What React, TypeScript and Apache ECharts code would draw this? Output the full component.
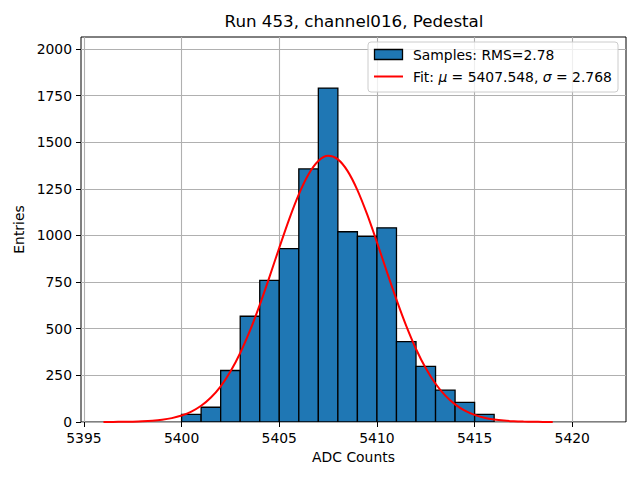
import React, { useEffect, useRef } from "react";
import * as echarts from "echarts";

const titleText = "Run 453, channel016, Pedestal";
const xAxisName = "ADC Counts";
const yAxisName = "Entries";

const binStarts = [5400, 5401, 5402, 5403, 5404, 5405, 5406, 5407, 5408, 5409, 5410, 5411, 5412, 5413, 5414, 5415];
const binWidth = 1;
const counts = [41, 79, 276, 567, 759, 929, 1357, 1790, 1020, 995, 1041, 431, 298, 171, 105, 41];

const fitX = [
  5396, 5396.5, 5397, 5397.5, 5398, 5398.5, 5399, 5399.5, 5400, 5400.5, 5401, 5401.5,
  5402, 5402.5, 5403, 5403.5, 5404, 5404.5, 5405, 5405.5, 5406, 5406.5, 5407, 5407.5,
  5408, 5408.5, 5409, 5409.5, 5410, 5410.5, 5411, 5411.5, 5412, 5412.5, 5413, 5413.5,
  5414, 5414.5, 5415, 5415.5, 5416, 5416.5, 5417, 5417.5, 5418, 5418.5, 5419,
];
const fitY = [
  0.24, 0.5, 1.0, 1.96, 3.72, 6.83, 12.1, 20.8, 34.7, 55.8, 86.9, 131.1,
  191.4, 270.5, 370.1, 489.8, 627.6, 778.3, 934.3, 1085.4, 1220.4, 1328.3, 1399.3, 1426.8,
  1408.1, 1345.1, 1243.5, 1112.8, 963.9, 808.1, 655.7, 515.0, 391.4, 288.1, 205.1, 141.4,
  94.4, 60.9, 38.1, 23.0, 13.5, 7.6, 4.2, 2.2, 1.1, 0.57, 0.27,
];

const xTicks = [5395, 5400, 5405, 5410, 5415, 5420];
const yTicks = [0, 250, 500, 750, 1000, 1250, 1500, 1750, 2000];
const xMin = 5394.85;
const xMax = 5422.75;
const yMin = 0;
const yMax = 2064;

const legendSamples = "Samples: RMS=2.78";
const legendFitMu = "5407.548";
const legendFitSigma = "2.768";

const FONT = "DejaVu Sans";

export default function App() {
  const ref = useRef<HTMLDivElement>(null);
  useEffect(() => {
    if (!ref.current) return;
    const chart = echarts.init(ref.current, undefined, { renderer: "svg" });
    const histData = binStarts.map((s, i) => [s, s + binWidth, counts[i]]);
    const fitData = fitX.map((x, i) => [x, fitY[i]]);
    const grid = { left: 81, right: 14, top: 37, bottom: 58 };
    const plain = (v: number) => String(v);
    const option: any = {
      animation: false,
      backgroundColor: "#ffffff",
      textStyle: { fontFamily: FONT },
      grid: {
        ...grid,
        show: true,
        borderColor: "#000000",
        borderWidth: 1,
        backgroundColor: "#ffffff",
        containLabel: false,
      },
      xAxis: {
        type: "value",
        min: xMin,
        max: xMax,
        name: xAxisName,
        nameLocation: "middle",
        nameGap: 28,
        nameTextStyle: { fontFamily: FONT, fontSize: 13.9, color: "#000" },
        axisLine: { show: false },
        axisTick: { show: true, inside: false, length: 5, customValues: xTicks, lineStyle: { color: "#000", width: 1 } },
        axisLabel: { customValues: xTicks, formatter: plain, margin: 9, fontFamily: FONT, fontSize: 13.9, color: "#000" },
        splitLine: { show: true, lineStyle: { color: "#b0b0b0", width: 1.1 } },
      },
      yAxis: {
        type: "value",
        min: yMin,
        max: yMax,
        name: yAxisName,
        nameLocation: "middle",
        nameGap: 51,
        nameRotate: 90,
        nameTextStyle: { fontFamily: FONT, fontSize: 13.9, color: "#000" },
        axisLine: { show: false },
        axisTick: { show: true, inside: false, length: 5, customValues: yTicks, lineStyle: { color: "#000", width: 1 } },
        axisLabel: { customValues: yTicks, formatter: plain, margin: 9, fontFamily: FONT, fontSize: 13.9, color: "#000" },
        splitLine: { show: true, lineStyle: { color: "#b0b0b0", width: 1.1 } },
      },
      series: [
        {
          type: "custom",
          name: "Samples",
          data: histData,
          encode: { x: [0, 1], y: 2 },
          clip: true,
          z: 2,
          renderItem: (params: any, api: any) => {
            const p0 = api.coord([api.value(0), api.value(2)]);
            const p1 = api.coord([api.value(1), 0]);
            return {
              type: "rect",
              shape: { x: p0[0], y: p0[1], width: p1[0] - p0[0], height: p1[1] - p0[1] },
              style: { fill: "#1f77b4", stroke: "#000000", lineWidth: 1.3 },
            };
          },
        },
        {
          type: "line",
          name: "Fit",
          data: fitData,
          showSymbol: false,
          smooth: 0.3,
          z: 3,
          lineStyle: { color: "#ff0000", width: 2 },
          itemStyle: { color: "#ff0000" },
        },
      ],
      graphic: [
        {
          type: "text",
          x: 354,
          y: 21,
          z: 100,
          style: {
            text: titleText,
            fontFamily: FONT,
            fontSize: 16.7,
            fill: "#000",
            textAlign: "center",
            textVerticalAlign: "middle",
          },
        },
        {
          type: "rect",
          z: 100,
          shape: { x: 368, y: 42, width: 250, height: 50, r: 3 },
          style: { fill: "rgba(255,255,255,0.8)", stroke: "#cccccc", lineWidth: 1 },
        },
        {
          type: "rect",
          z: 101,
          shape: { x: 374.5, y: 49.5, width: 28, height: 10 },
          style: { fill: "#1f77b4", stroke: "#000000", lineWidth: 1.3 },
        },
        {
          type: "text",
          x: 413,
          y: 55,
          z: 101,
          style: {
            text: legendSamples,
            fontFamily: FONT,
            fontSize: 13.9,
            fill: "#000",
            textAlign: "left",
            textVerticalAlign: "middle",
          },
        },
        {
          type: "line",
          z: 101,
          shape: { x1: 374, y1: 76.5, x2: 403, y2: 76.5 },
          style: { stroke: "#ff0000", lineWidth: 2 },
        },
        {
          type: "text",
          x: 413,
          y: 77,
          z: 101,
          style: {
            text: "{n|Fit: }{i|μ}{n| = " + legendFitMu + ", }{i|σ}{n| = " + legendFitSigma + "}",
            textAlign: "left",
            textVerticalAlign: "middle",
            rich: {
              n: { fontFamily: FONT, fontSize: 13.9, fill: "#000", color: "#000" },
              i: { fontFamily: FONT, fontSize: 13.9, fontStyle: "italic", fill: "#000", color: "#000" },
            },
          },
        },
      ],
    };
    chart.setOption(option);
    return () => chart.dispose();
  }, []);
  return (
    <div
      ref={ref}
      style={{ position: "fixed", left: 0, top: 0, width: 640, height: 480, background: "#fff" }}
    />
  );
}
